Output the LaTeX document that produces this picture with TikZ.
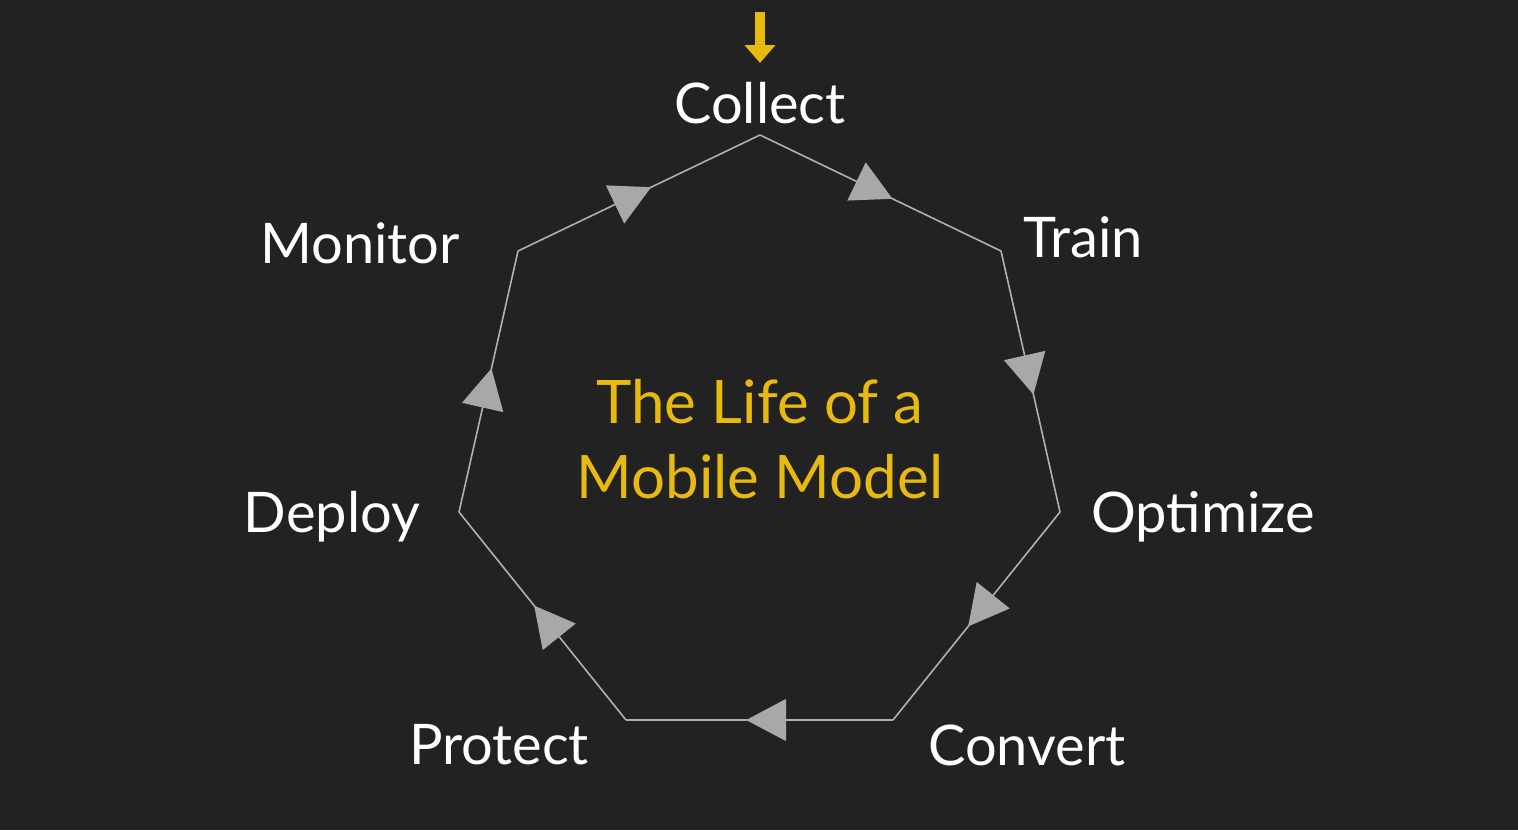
\documentclass[tikz,border=0pt]{standalone}
\usepackage{fontspec}
\setmainfont{Lato}
\usetikzlibrary{arrows.meta,decorations.markings}
\definecolor{bg}{HTML}{222222}
\definecolor{gold}{HTML}{E8BA10}
\definecolor{edge}{HTML}{B0B0B0}
\definecolor{tipc}{HTML}{A8A8A8}
\tikzset{
  lbl/.style={text=white,font=\fontsize{28}{30}\selectfont,inner sep=0},
  ttl/.style={text=gold,font=\fontsize{30}{32}\selectfont,inner sep=0},
  cyc/.style={draw=edge,line width=0.8pt,postaction={decorate},
    decoration={markings,mark=at position 0.55 with {\arrow[tipc]{Triangle[length=20pt,width=21pt]}}}}
}
\begin{document}
\begin{tikzpicture}[x=0.5pt,y=-0.5pt]
\fill[bg] (0,0) rectangle (1518,830);
\useasboundingbox (0,0) rectangle (1518,830);
\coordinate (v1) at (760,135);
\coordinate (v2) at (1001,251);
\coordinate (v3) at (1060,512);
\coordinate (v4) at (893,720);
\coordinate (v5) at (626,720);
\coordinate (v6) at (459,512);
\coordinate (v7) at (518,251);
\draw[cyc] (v1) -- (v2);
\draw[cyc] (v2) -- (v3);
\draw[cyc] (v3) -- (v4);
\draw[cyc] (v4) -- (v5);
\draw[cyc] (v5) -- (v6);
\draw[cyc] (v6) -- (v7);
\draw[cyc] (v7) -- (v1);
\node[lbl] (collect) at (760,103) {Collect};
\node[lbl] (train) at (1083,237) {Train};
\node[lbl] (optimize) at (1203,517) {Optimize};
\node[lbl] (convert) at (1027,745) {Convert};
\node[lbl] (protect) at (499,745) {Protect};
\node[lbl] (deploy) at (332,517) {Deploy};
\node[lbl] (monitor) at (360,243) {Monitor};
\node[ttl] (t1) at (760,402) {The Life of a};
\node[ttl] (t2) at (760,477) {Mobile Model};
\coordinate (a0) at (760,12);
\coordinate (a1) at (760,63);
\draw[gold,line width=5pt,-{Triangle[length=9pt,width=15pt]}] (a0) -- (a1);
\end{tikzpicture}
\end{document}
